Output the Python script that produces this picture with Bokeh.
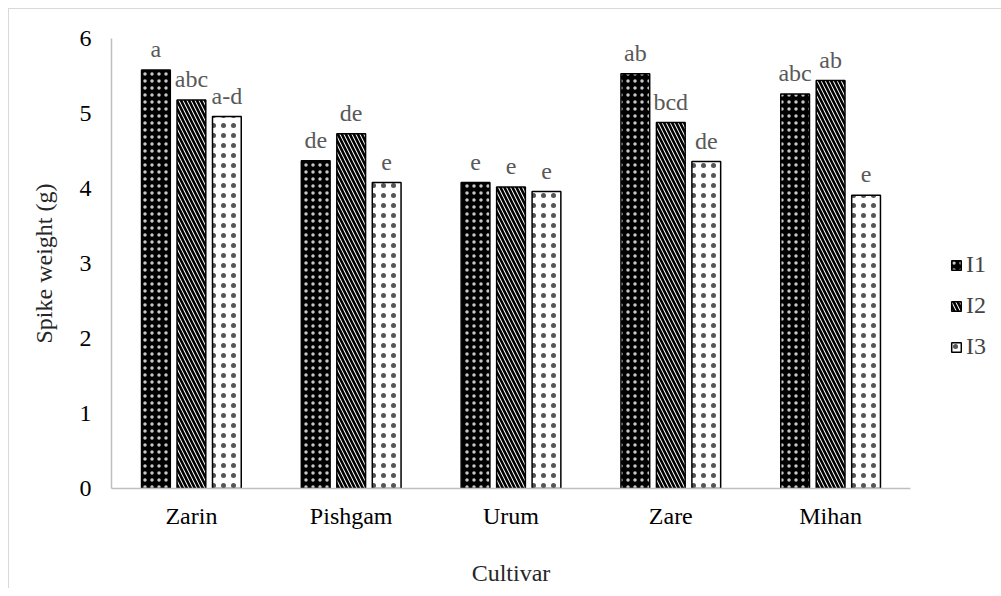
from bokeh.plotting import figure
from bokeh.models import ColumnDataSource, FactorRange, Legend, LegendItem, LabelSet, FixedTicker
from bokeh.transform import dodge
from bokeh.embed import file_html
from bokeh.resources import INLINE

cultivars = ["Zarin", "Pishgam", "Urum", "Zare", "Mihan"]
i1 = [5.58, 4.37, 4.08, 5.53, 5.26]
i2 = [5.18, 4.73, 4.02, 4.88, 5.44]
i3 = [4.96, 4.08, 3.96, 4.36, 3.91]
l1 = ["a", "de", "e", "ab", "abc"]
l2 = ["abc", "de", "e", "bcd", "ab"]
l3 = ["a-d", "e", "e", "de", "e"]
y_ticks = [0, 1, 2, 3, 4, 5, 6]

src = ColumnDataSource(dict(c=cultivars, i1=i1, i2=i2, i3=i3, l1=l1, l2=l2, l3=l3))

FONT = "Liberation Serif"
FS = "24px"

p = figure(frame_width=799, frame_height=450, x_range=FactorRange(*cultivars, range_padding=0),
           y_range=(0, 6), output_backend="svg", toolbar_location=None,
           min_border_left=103, min_border_right=0, min_border_top=38, min_border_bottom=98)
p.border_fill_color = None
p.background_fill_color = "white"
p.styles = {
    "background-image": "linear-gradient(#d9d9d9,#d9d9d9), linear-gradient(#d9d9d9,#d9d9d9)",
    "background-size": "100% 1px, 1px 100%",
    "background-position": "0 8px, 0 8px",
    "background-repeat": "no-repeat",
    "margin-left": "8px",
}
p.outline_line_color = None
p.xgrid.grid_line_color = None
p.ygrid.grid_line_color = None

W = 0.18
OFF = 0.222
r1 = p.vbar(x=dodge("c", -OFF, range=p.x_range), top="i1", width=W, source=src,
            fill_color="black", line_color="black", line_width=1.5,
            hatch_pattern="dot", hatch_color="#c8c8c8", hatch_scale=7, hatch_weight=2.4)
r2 = p.vbar(x=dodge("c", 0, range=p.x_range), top="i2", width=W, source=src,
            fill_color="white", line_color="black", line_width=1.5,
            hatch_pattern="\\", hatch_color="black", hatch_scale=8, hatch_weight=2.6)
r3 = p.vbar(x=dodge("c", OFF, range=p.x_range), top="i3", width=W, source=src,
            fill_color="white", line_color="black", line_width=1.5,
            hatch_pattern="dot", hatch_color="#555555", hatch_scale=10, hatch_weight=2.2)

for off, top, lab in [(-OFF, "i1", "l1"), (0, "i2", "l2"), (OFF, "i3", "l3")]:
    ls = LabelSet(x=dodge("c", off, range=p.x_range), y=top, text=lab, source=src,
                  text_align="center", text_baseline="alphabetic", y_offset=13,
                  text_font=FONT, text_font_size=FS, text_color="#595959")
    p.add_layout(ls)

p.yaxis.ticker = FixedTicker(ticks=y_ticks)
for ax in (p.xaxis, p.yaxis):
    ax.axis_line_color = "#bfbfbf"
    ax.axis_line_width = 1.5
    ax.major_tick_line_color = None
    ax.minor_tick_line_color = None
    ax.major_label_text_font = FONT
    ax.major_label_text_font_size = FS
    ax.major_label_text_color = "black"
    ax.axis_label_text_font = FONT
    ax.axis_label_text_font_size = FS
    ax.axis_label_text_font_style = "normal"
    ax.axis_label_text_color = "#262626"
p.yaxis.major_label_standoff = 14
p.yaxis.major_label_text_baseline = "bottom"
p.yaxis.axis_label = "Spike weight (g)"
p.yaxis.axis_label_standoff = 20
p.xaxis.axis_label = "Cultivar"
p.xaxis.major_label_standoff = 8
p.xaxis.axis_label_standoff = 28

legend = Legend(items=[LegendItem(label="I1", renderers=[r1]),
                       LegendItem(label="I2", renderers=[r2]),
                       LegendItem(label="I3", renderers=[r3])],
                location=(40, 128), orientation="vertical",
                glyph_width=12, glyph_height=12, spacing=14, padding=0, margin=0,
                label_text_font=FONT, label_text_font_size=FS, label_standoff=4,
                border_line_color=None, background_fill_alpha=0)
p.add_layout(legend, "right")

open("out.html", "w").write(file_html(p, INLINE))
